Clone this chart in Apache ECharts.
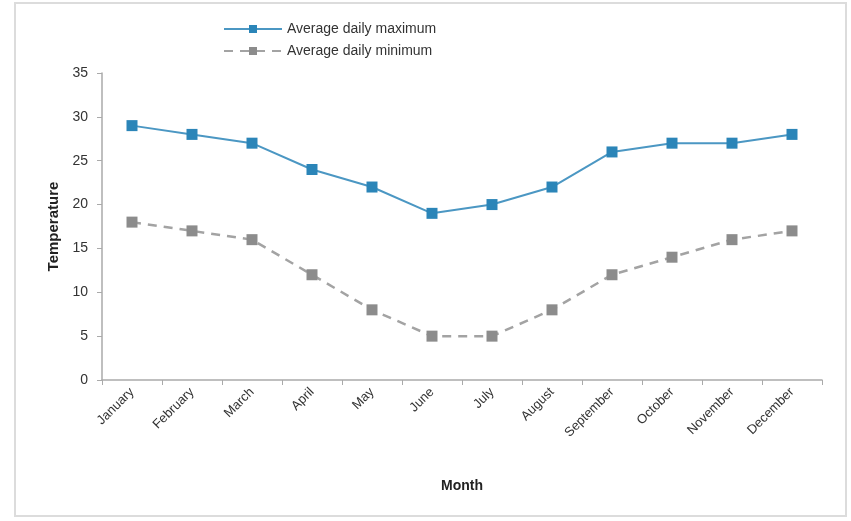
<!DOCTYPE html>
<html>
<head>
<meta charset="utf-8">
<script src="https://cdn.jsdelivr.net/npm/echarts@6/dist/echarts.min.js"></script>
<style>
html, body { margin: 0; padding: 0; background: #fff; }
#main { width: 851px; height: 521px; }
</style>
</head>
<body>
<div id="main"></div>
<script>
// data
var months = ['January', 'February', 'March', 'April', 'May', 'June', 'July', 'August', 'September', 'October', 'November', 'December'];
var maxTemp = [29, 28, 27, 24, 22, 19, 20, 22, 26, 27, 27, 28];
var minTemp = [18, 17, 16, 12, 8, 5, 5, 8, 12, 14, 16, 17];
var yTicks = [0, 5, 10, 15, 20, 25, 30, 35];

var chart = echarts.init(document.getElementById('main'));
var font = 'Liberation Sans, Arial, sans-serif';

var option = {
	animation: false,
	backgroundColor: '#fff',
	textStyle: { fontFamily: font },
	graphic: [{
		type: 'rect',
		shape: { x: 15, y: 3, width: 831, height: 513 },
		style: { fill: 'none', stroke: '#dcdcdc', lineWidth: 2 }
	}],
	legend: {
		orient: 'vertical',
		left: 218,
		top: 17,
		itemGap: 8,
		itemWidth: 58,
		itemHeight: 10,
		textStyle: { fontSize: 14, color: '#333', fontFamily: font },
		data: ['Average daily maximum', 'Average daily minimum']
	},
	grid: { left: 102, right: 29, top: 73, bottom: 141 },
	xAxis: {
		type: 'category',
		data: months,
		boundaryGap: true,
		name: 'Month',
		nameLocation: 'middle',
		nameGap: 99,
		nameTextStyle: { fontSize: 14, fontWeight: 'bold', color: '#222' },
		axisLine: { lineStyle: { color: '#aaa', width: 1.5 } },
		axisTick: { show: true, length: 5, lineStyle: { color: '#aaa' } },
		axisLabel: { rotate: 45, fontSize: 13, color: '#333', margin: 10, interval: 0 }
	},
	yAxis: {
		type: 'value',
		min: yTicks[0],
		max: yTicks[yTicks.length - 1],
		interval: 5,
		name: 'Temperature',
		nameLocation: 'middle',
		nameGap: 38,
		nameTextStyle: { fontSize: 15, fontWeight: 'bold', color: '#222' },
		axisLine: { show: true, lineStyle: { color: '#aaa', width: 1.5 } },
		axisTick: { show: true, length: 5, lineStyle: { color: '#aaa' } },
		axisLabel: { fontSize: 14, color: '#333', margin: 14 },
		splitLine: { show: false }
	},
	series: [{
		name: 'Average daily maximum',
		type: 'line',
		data: maxTemp,
		symbol: 'rect',
		symbolSize: 11,
		itemStyle: { color: '#2b85b8' },
		lineStyle: { color: '#4b97c3', width: 2 }
	}, {
		name: 'Average daily minimum',
		type: 'line',
		data: minTemp,
		symbol: 'rect',
		symbolSize: 11,
		itemStyle: { color: '#8c8c8c' },
		lineStyle: { color: '#a3a3a3', width: 2.5, type: [9, 7] }
	}]
};
chart.setOption(option);
</script>
</body>
</html>
